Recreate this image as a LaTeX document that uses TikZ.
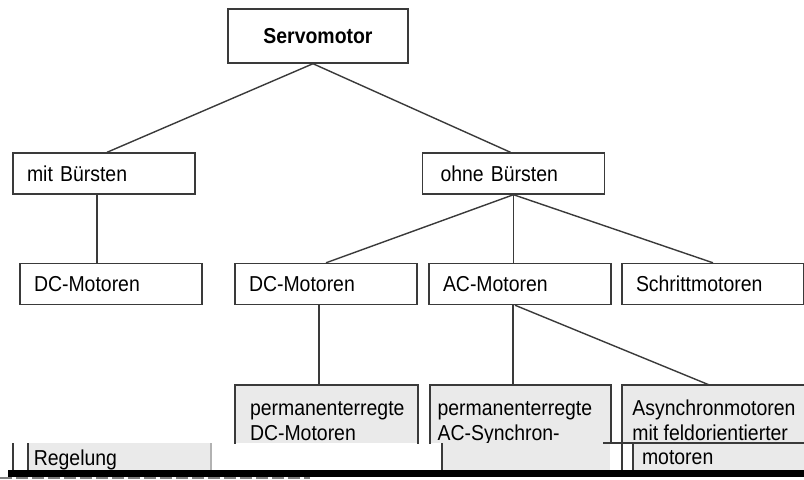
\documentclass[tikz,border=0pt]{standalone}
\usepackage{fontspec}
\setmainfont{Liberation Sans}[FakeStretch=0.9]
\definecolor{boxgray}{RGB}{234,234,234}
\definecolor{linegray}{RGB}{58,58,58}

\begin{document}
\begin{tikzpicture}[
        x=0.5pt, y=-0.5pt,
        font=\fontsize{10.8}{12.5}\selectfont,
        box/.style={draw=linegray, line width=0.7pt, fill=white, minimum height=20.5pt, text width=77pt, inner xsep=7pt, align=left},
        cutbox/.style={fill=boxgray, minimum width=91pt, minimum height=29pt, inner sep=0pt, anchor=north west},
        boxtext/.style={anchor=north west, inner sep=0pt, align=left},
        strip/.style={fill=boxgray, minimum height=13.5pt, align=left, anchor=north west},
        edge/.style={draw=linegray, line width=0.7pt},
        rim/.style={draw=linegray, line width=1pt}
    ]
        \useasboundingbox (0,0) rectangle (804,479);
        \fill [white] (0,0) rectangle (804,479);

        % Top level
        \node (servo) [box, text width=76pt, align=center, minimum height=27pt] at (318,36) {\textbf{Servomotor}};

        % Brushes or not
        \node (mitb) [box] at (104,173.5) {mit Bürsten};
        \node (ohneb) [box, inner xsep=9pt, text width=73pt] at (513.5,173.5) {ohne Bürsten};

        % Motor types
        \node (dcl) [box] at (111,284) {DC-Motoren};
        \node (dcm) [box] at (326,284) {DC-Motoren};
        \node (acm) [box] at (520,284) {AC-Motoren};
        \node (schritt) [box] at (713,284) {Schrittmotoren};

        % Lower boxes, cut off by the scan
        \node (pdc) [cutbox, label={[boxtext, xshift=7.3pt, yshift=-6.25pt]north west:{\strut permanenterregte\\DC-Motoren}}] at (235,385) {};
        \node (pac) [cutbox, minimum width=90pt, label={[boxtext, xshift=3.6pt, yshift=-6.25pt]north west:{\strut permanenterregte\\AC-Synchron-}}] at (430,385) {};
        \node (pasy) [cutbox, label={[boxtext, xshift=5pt, yshift=-6.25pt]north west:{\strut Asynchronmotoren\\mit feldorientierter}}] at (622,385) {};
        \draw [rim] (pdc.south west) -- (pdc.north west) -- (pdc.north east) -- (pdc.south east);
        \draw [rim] (pac.south west) -- (pac.north west) -- (pac.north east) -- (pac.south east);
        \draw [rim] (pasy.south west) |- (pasy.north east);

        % Connections
        \draw [edge] ([xshift=-2.5pt]servo.south) -- ([xshift=1.5pt]mitb.north);
        \draw [edge] ([xshift=-2.5pt]servo.south) -- ([xshift=-1.5pt]ohneb.north);
        \draw [edge] ([xshift=-3.5pt]mitb.south) -- ([xshift=-7pt]dcl.north);
        \draw [edge] (ohneb.south) -- (dcm.north);
        \draw [edge] (ohneb.south) -- (ohneb.south |- acm.north);
        \draw [edge] (ohneb.south) -- (schritt.north);
        \draw [edge, line width=1pt] ([xshift=-3.5pt]dcm.south) -- ([xshift=-3.5pt]dcm.south |- pdc.north);
        \draw [edge] ([xshift=-3.5pt]acm.south) -- ([xshift=-3.5pt]acm.south |- pac.north);
        \draw [edge] ([xshift=-2.5pt]acm.south) -- ([xshift=-2pt]pasy.north);

        % Broken strip at the bottom
        \node (regel) [strip, minimum width=91pt, text width=85.6pt, inner xsep=2.7pt] at (28,443) {Regelung};
        \node (motor) [strip, minimum width=85.5pt, text width=76.9pt, inner xsep=4.3pt] at (633,443) {motoren};
        \fill [boxgray] (442,443) rectangle (610,470);
        \draw [edge] (13,443) -- (13,470);
        \draw [edge] (regel.north west) -- (regel.south west);
        \draw [edge, draw=gray!60] (regel.north east) -- (regel.south east);
        \draw [edge] (442,443) -- (442,470);
        \draw [edge] (622,443) -- (622,470);
        \draw [edge] (motor.north west) -- (motor.south west);
        \draw [edge] (603,443) -- (804,443);
        \fill [black] (8,470) rectangle (804,477);
        \draw [gray, line width=1pt, dash pattern=on 6pt off 2pt] (0,478) -- (310,478);

    \end{tikzpicture}
\end{document}
